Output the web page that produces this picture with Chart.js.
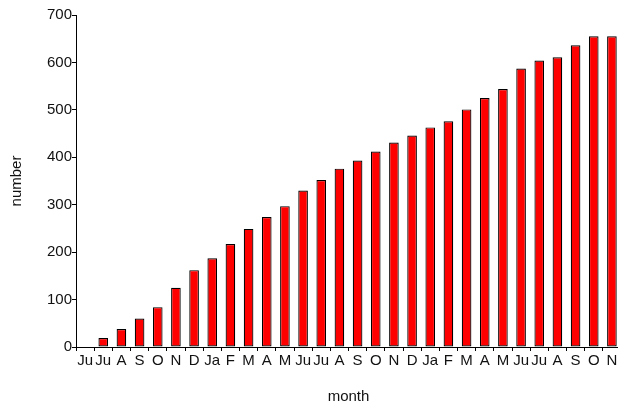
<!DOCTYPE html>
<html>
<head>
<meta charset="utf-8">
<script src="https://cdn.jsdelivr.net/npm/chart.js@4"></script>
<style>
  html, body { margin: 0; padding: 0; background: #fff; overflow: hidden; }
  #wrap { position: relative; width: 621px; height: 406px; }
</style>
</head>
<body>
<div id="wrap"><canvas id="chart"></canvas></div>
<script>
// ---------- Data ----------
var months = ["Ju", "Ju", "A", "S", "O", "N", "D", "Ja", "F", "M", "A", "M",
              "Ju", "Ju", "A", "S", "O", "N", "D", "Ja", "F", "M", "A", "M",
              "Ju", "Ju", "A", "S", "O", "N"];
var counts = [0, 19, 38, 60, 84, 125, 162, 187, 217, 249, 274, 297,
              330, 352, 376, 393, 412, 431, 446, 463, 476, 501, 525, 544,
              587, 604, 611, 636, 655, 655];
var yTicks = [0, 100, 200, 300, 400, 500, 600, 700];

var FONT = "Liberation Sans, Arial, sans-serif";
var INK = "#111111";

(function () {
    "use strict";

    var ctx = document.getElementById("chart").getContext("2d");

    new Chart(ctx, {
        type: "bar",
        data: {
            labels: months,
            datasets: [{
                label: "number",
                data: counts,
                backgroundColor: "#ff0000",
                borderColor: "#000000",
                borderWidth: 1.2,
                borderSkipped: false,
                barPercentage: 0.53,
                categoryPercentage: 1.0
            }]
        },
        options: {
            responsive: true,
            maintainAspectRatio: false,
            animation: false,
            layout: { padding: { top: 15, right: 0, bottom: 0, left: 0 } },
            plugins: {
                legend: { display: false },
                tooltip: { enabled: false }
            },
            scales: {
                x: {
                    offset: true,
                    grid: {
                        offset: true,
                        drawOnChartArea: false,
                        drawTicks: true,
                        tickLength: 4,
                        color: "#000"
                    },
                    border: { display: true, color: "#000", width: 1 },
                    ticks: {
                        autoSkip: false,
                        maxRotation: 0,
                        minRotation: 0,
                        padding: 1,
                        color: INK,
                        font: { family: FONT, size: 15 }
                    },
                    title: {
                        display: true,
                        text: "month",
                        color: INK,
                        font: { family: FONT, size: 15 },
                        padding: { top: 0, bottom: 0 }
                    },
                    afterFit: function (scale) { scale.height = 59; }
                },
                y: {
                    min: yTicks[0],
                    max: yTicks[yTicks.length - 1],
                    afterBuildTicks: function (scale) {
                        scale.ticks = yTicks.map(function (v) { return { value: v }; });
                    },
                    grid: {
                        drawOnChartArea: false,
                        drawTicks: true,
                        tickLength: 4,
                        color: "#000"
                    },
                    border: { display: true, color: "#000", width: 1 },
                    ticks: {
                        padding: 0,
                        color: INK,
                        font: { family: FONT, size: 15 }
                    },
                    title: {
                        display: true,
                        text: "number",
                        color: INK,
                        font: { family: FONT, size: 15 },
                        padding: { top: 8, bottom: 0 }
                    },
                    afterFit: function (scale) { scale.width = 76; }
                }
            }
        }
    });
})();
</script>
</body>
</html>
